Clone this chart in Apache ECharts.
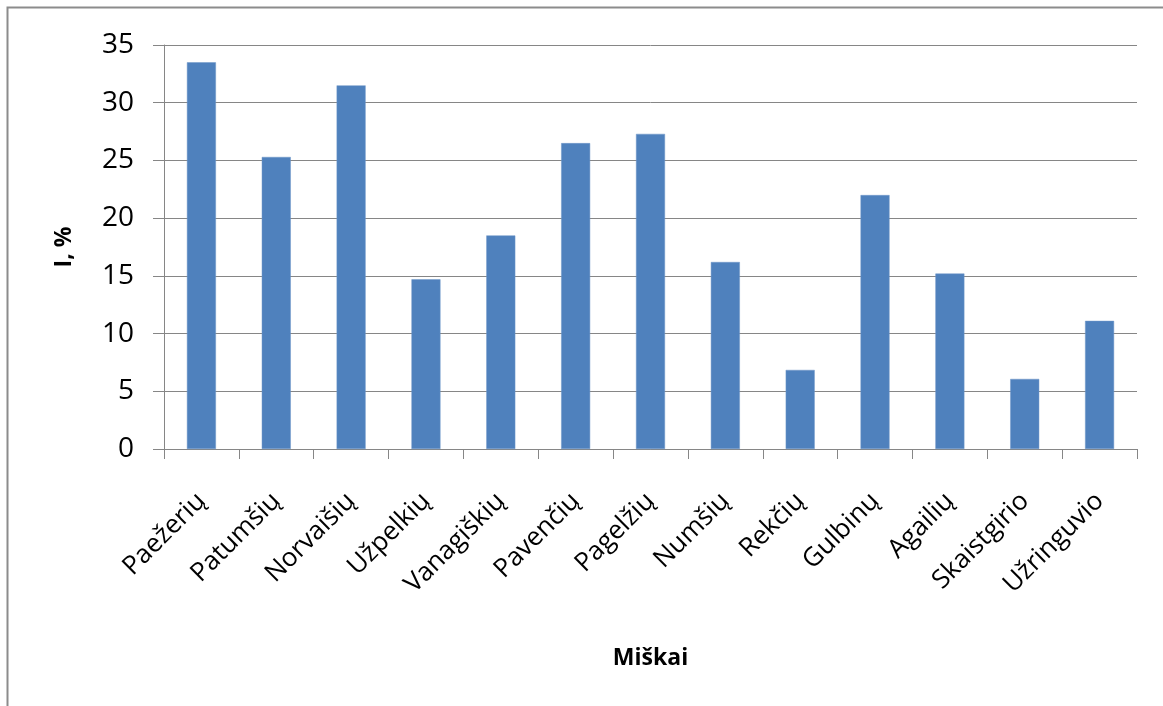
<!DOCTYPE html>
<html>
<head>
<meta charset="utf-8">
<script src="https://cdn.jsdelivr.net/npm/echarts@6/dist/echarts.min.js"></script>
<style>
  html, body { margin: 0; padding: 0; background: #ffffff; }
  #chart { width: 1163px; height: 706px; }
</style>
</head>
<body>
<div id="chart"></div>
<script>
// Forests and their share I, %
const categories = ['Paežerių', 'Patumšių', 'Norvaišių', 'Užpelkių', 'Vanagiškių', 'Pavenčių', 'Pagelžių', 'Numšių', 'Rekčių', 'Gulbinų', 'Agailių', 'Skaistgirio', 'Užringuvio'];
const values = [33.5, 25.3, 31.5, 14.7, 18.5, 26.5, 27.3, 16.2, 6.85, 22.0, 15.2, 6.07, 11.1];
const yTicks = { min: 0, max: 35, interval: 5 };

const FONT = '"Open Sans", "Noto Sans", sans-serif';
const chart = echarts.init(document.getElementById('chart'), null, { renderer: 'canvas' });

chart.setOption({
  backgroundColor: '#ffffff',
  animation: false,
  graphic: [{
    type: 'rect',
    shape: { x: 7.5, y: 7.5, width: 1200, height: 720 },
    style: { fill: 'none', stroke: '#8c8c8c', lineWidth: 2 },
    silent: true
  }],
  grid: { left: 164, right: 26, top: 45, bottom: 257, containLabel: false },
  xAxis: {
    type: 'category',
    data: categories,
    boundaryGap: true,
    name: 'Miškai',
    nameLocation: 'middle',
    nameGap: 198,
    nameTextStyle: { fontFamily: FONT, fontSize: 23, fontWeight: 'bold', color: '#000' },
    axisLine: { lineStyle: { color: '#868686', width: 1 } },
    axisTick: { show: true, alignWithLabel: false, length: 10, lineStyle: { color: '#868686' } },
    axisLabel: { rotate: 45, interval: 0, margin: 48, fontFamily: FONT, fontSize: 26, color: '#000' },
    splitLine: { show: false }
  },
  yAxis: {
    type: 'value',
    min: yTicks.min,
    max: yTicks.max,
    interval: yTicks.interval,
    name: 'I, %',
    nameLocation: 'middle',
    nameGap: 88,
    nameRotate: 90,
    nameTextStyle: { fontFamily: FONT, fontSize: 23, fontWeight: 'bold', color: '#000' },
    axisLine: { show: true, lineStyle: { color: '#868686', width: 1 } },
    axisTick: { show: true, length: 11, lineStyle: { color: '#868686' } },
    axisLabel: { margin: 30, fontFamily: FONT, fontSize: 28, color: '#000' },
    splitLine: { show: true, lineStyle: { color: '#868686', width: 1 } }
  },
  series: [{
    type: 'bar',
    data: values,
    barWidth: 29,
    itemStyle: { color: '#4f81bd', borderColor: '#6f97c8', borderWidth: 0.5 }
  }]
});
</script>
</body>
</html>
